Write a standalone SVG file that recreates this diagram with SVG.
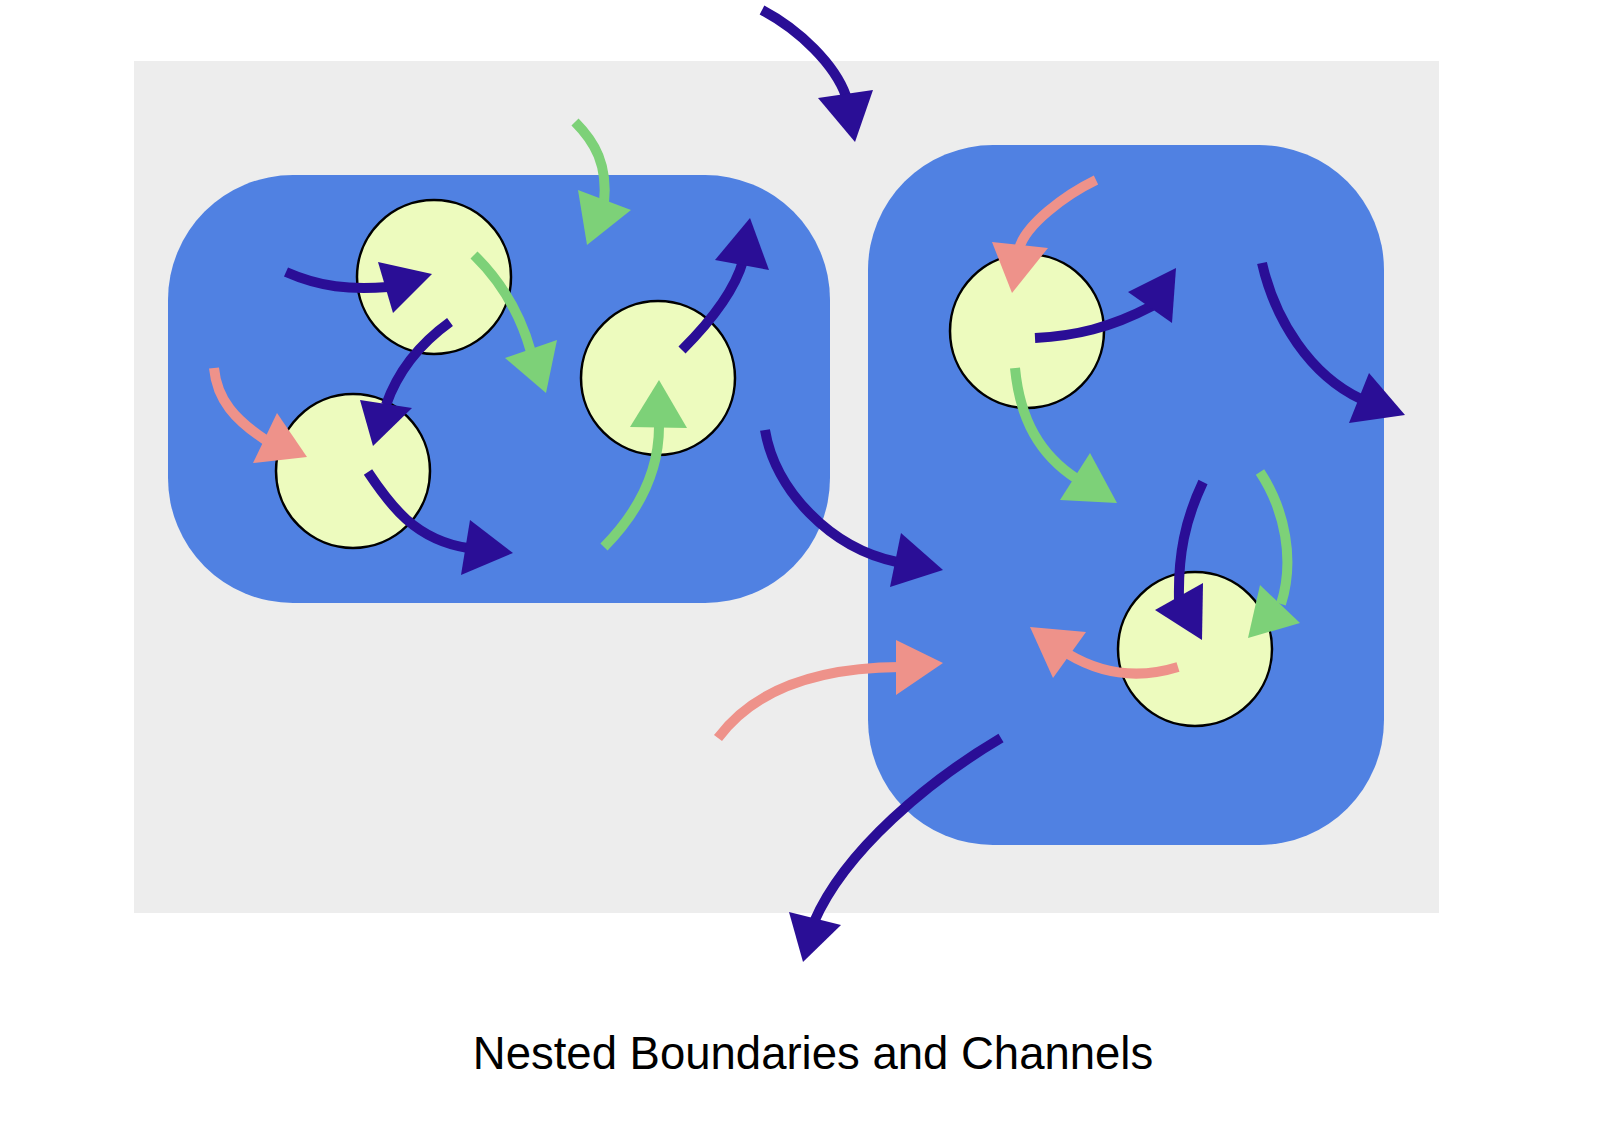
<svg xmlns="http://www.w3.org/2000/svg" width="1600" height="1129" viewBox="0 0 1600 1129">
<style>
.bg{fill:#ffffff}
.area{fill:#ededed}
.box{fill:#5081e2}
.cell{fill:#edfbbe;stroke:#000;stroke-width:2.5}
.c{fill:none;stroke-width:10;stroke-linecap:butt}
.navy{stroke:#2a0e96}
.green{stroke:#7dd178}
.salmon{stroke:#ee928a}
.hn{fill:#2a0e96}
.hg{fill:#7dd178}
.hs{fill:#ee928a}
.title{font-family:"Liberation Sans",Arial,Helvetica,sans-serif;font-size:45.5px;fill:#000;text-anchor:middle}
</style>
<rect class="bg" x="0" y="0" width="1600" height="1129"/>
<g id="outer"><rect class="area" x="134" y="61" width="1305" height="852"/></g>
<g id="box-left"><rect class="box" x="168" y="175" width="662" height="428" rx="125" ry="125"/></g>
<g id="box-right"><rect class="box" x="868" y="145" width="516" height="700" rx="125" ry="125"/></g>
<g id="cell-1"><circle class="cell" cx="434" cy="277" r="77"/></g>
<g id="cell-2"><circle class="cell" cx="353" cy="471" r="77"/></g>
<g id="cell-3"><circle class="cell" cx="658" cy="378" r="77"/></g>
<g id="cell-4"><circle class="cell" cx="1027" cy="331" r="77"/></g>
<g id="cell-5"><circle class="cell" cx="1195" cy="649" r="77"/></g>
<g id="connectors">
<path class="c navy" d="M762,10 C800,30 835,65 846,96"/><polygon class="hn" points="818,98 873,90 855,142"/>
<path class="c navy" d="M286,272 C320,287 350,290 388,287"/><polygon class="hn" points="378,262 432,274 393,313"/>
<path class="c green" d="M474,255 Q515,295 531,352"/><polygon class="hg" points="505,358 557,340 546,393"/>
<path class="c green" d="M575,122 C595,142 608,165 604,203"/><polygon class="hg" points="578,190 631,210 587,245"/>
<path class="c navy" d="M450,322 C425,340 400,365 386,405"/><polygon class="hn" points="360,400 412,408 373,446"/>
<path class="c salmon" d="M214,368 C217,400 235,420 267,441"/><polygon class="hs" points="277,413 307,457 253,463"/>
<path class="c navy" d="M368,472 C390,505 415,540 468,548"/><polygon class="hn" points="470,520 513,553 461,575"/>
<path class="c green" d="M604,547 Q660,490 659,424"/><polygon class="hg" points="659,380 630,427 687,428"/>
<path class="c navy" d="M682,350 Q732,300 743,261"/><polygon class="hn" points="750,218 715,260 769,270"/>
<path class="c navy" d="M765,430 C775,490 830,548 897,562"/><polygon class="hn" points="901,533 943,570 890,587"/>
<path class="c salmon" d="M718,738 Q770,668 900,667"/><polygon class="hs" points="896,640 943,663 896,695"/>
<path class="c salmon" d="M1178,667 Q1120,685 1068,654"/><polygon class="hs" points="1030,627 1086,632 1053,678"/>
<path class="c navy" d="M1203,482 C1185,520 1178,555 1179,600"/><polygon class="hn" points="1155,610 1203,583 1202,640"/>
<path class="c green" d="M1260,472 C1285,510 1295,560 1281,604"/><polygon class="hg" points="1260,585 1300,623 1248,638"/>
<path class="c salmon" d="M1096,180 C1065,195 1025,225 1019,249"/><polygon class="hs" points="992,242 1048,248 1012,293"/>
<path class="c navy" d="M1035,338 C1075,336 1110,328 1152,306"/><polygon class="hn" points="1128,292 1176,268 1172,323"/>
<path class="c green" d="M1015,368 C1020,420 1040,455 1077,479"/><polygon class="hg" points="1090,453 1060,500 1117,503"/>
<path class="c navy" d="M1262,263 C1275,320 1310,375 1361,399"/><polygon class="hn" points="1369,373 1405,415 1349,423"/>
<path class="c navy" d="M1001,738 C930,780 845,850 814,922"/><polygon class="hn" points="789,912 841,925 803,962"/>
</g>
<text class="title" x="813" y="1069">Nested Boundaries and Channels</text>
</svg>
